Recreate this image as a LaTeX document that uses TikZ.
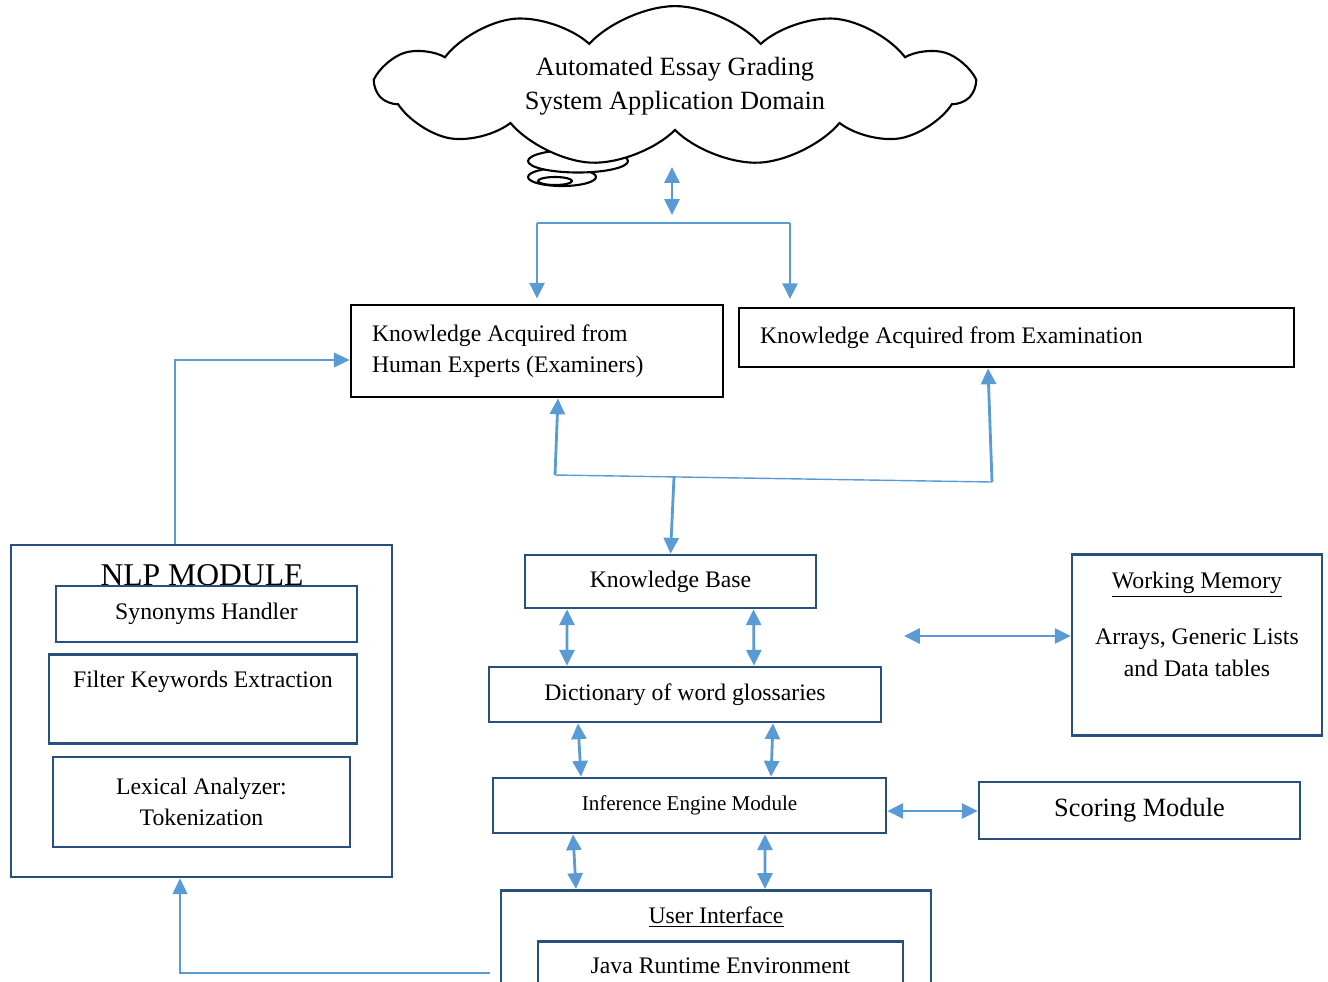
\documentclass[tikz,border=0pt]{standalone}
\usepackage{fontspec}
\setmainfont{Liberation Serif}
\usetikzlibrary{arrows.meta,shapes.symbols}
\definecolor{linkblue}{RGB}{91,155,213}
\definecolor{boxblue}{RGB}{41,80,125}

\begin{document}
\begin{tikzpicture}[
       font=\fontsize{13.5}{18}\selectfont,
       box/.style={rectangle, draw=boxblue, line width=1.5pt, fill=white, align=flush center, inner sep=0pt},
       knowbox/.style={rectangle, draw=black, line width=1.6pt, align=flush left, inner xsep=0.42cm, inner ysep=0pt},
       bubble/.style={draw=black, line width=1.2pt, fill=white},
       arrow/.style={-{Triangle[length=9pt,width=8.5pt]}, line width=1.6pt, linkblue},
       darrow/.style={{Triangle[length=9pt,width=8.5pt]}-{Triangle[length=9pt,width=8.5pt]}, line width=1.6pt, linkblue},
       link/.style={line width=0.8pt, linkblue},
       linkarrow/.style={-{Triangle[length=9pt,width=8.5pt]}, line width=0.8pt, linkblue}
   ]
   \clip (0,0) rectangle (26.56,-19.62);

   % thought bubble
   \draw[bubble] (11.24,-3.54) ellipse (0.68cm and 0.18cm);
   \draw[bubble] (11.1,-3.62) ellipse (0.34cm and 0.08cm);
   \draw[bubble] (11.56,-3.22) ellipse (1.0cm and 0.23cm);
   \node[cloud, draw=black, line width=1.2pt, fill=white, cloud puffs=11, cloud puff arc=95,
         cloud ignores aspect=false, aspect=3.8, inner sep=0pt,
         minimum width=11.9cm, minimum height=3.1cm, align=center,
         font=\fontsize{15}{19}\selectfont] (domain) at (13.5,-1.72)
         {Automated Essay Grading\\System Application Domain};

   % knowledge sources
   \node[knowbox, text width=6.6cm, minimum height=1.84cm] (human) at (10.74,-7.02)
         {Knowledge Acquired from\\Human Experts (Examiners)};
   \node[knowbox, text width=10.26cm, minimum height=1.18cm] (exam) at (20.33,-6.75)
         {Knowledge Acquired from Examination};

   % nlp module
   \node[box, minimum width=7.62cm, minimum height=6.64cm] (nlp) at (4.03,-14.22) {};
   \node[font=\fontsize{18}{20}\selectfont] (nlptitle) at (4.04,-11.51) {NLP MODULE};
   \node[box, minimum width=6.02cm, minimum height=1.12cm] (syn) at (4.13,-12.28) {Synonyms Handler};
   \node[box, anchor=north, text width=6.16cm, text height=0.66cm, text depth=1.12cm] (filter) at (4.06,-13.06)
         {Filter Keywords Extraction};
   \node[box, minimum width=5.94cm, minimum height=1.8cm] (lex) at (4.03,-16.04)
         {Lexical Analyzer:\\Tokenization};

   % core modules
   \node[box, minimum width=5.82cm, minimum height=1.06cm] (kb) at (13.41,-11.63) {Knowledge Base};
   \node[box, minimum width=7.84cm, minimum height=1.1cm] (dict) at (13.7,-13.89) {Dictionary of word glossaries};
   \node[box, minimum width=7.86cm, minimum height=1.1cm, font=\fontsize{12}{15}\selectfont] (inf) at (13.79,-16.11)
         {Inference Engine Module};
   \node[box, minimum width=6.42cm, minimum height=1.14cm, font=\fontsize{15}{18}\selectfont] (score) at (22.79,-16.21)
         {Scoring Module};
   \node[box, anchor=north, text width=5cm, text height=0.68cm, text depth=2.94cm] (wm) at (23.94,-11.06)
         {\underline{Working Memory}\\[14pt]Arrays, Generic Lists\\and Data tables};
   \node[box, anchor=north, text width=8.6cm, text height=0.66cm, text depth=2cm] (ui) at (14.32,-17.78)
         {\underline{User Interface}};
   \node[box, anchor=north, text width=7.3cm, text height=0.64cm, text depth=1cm] (jre) at (14.41,-18.8)
         {Java Runtime Environment};

   % free ends of the connectors
   \coordinate (cloudlow) at (13.44,-3.34);
   \coordinate (toplink) at (13.44,-4.3);
   \coordinate (brL) at (10.74,-4.46);
   \coordinate (brR) at (15.8,-4.46);
   \coordinate (splitL) at (11.1,-9.5);
   \coordinate (splitM) at (13.48,-9.54);
   \coordinate (splitR) at (19.84,-9.64);
   \coordinate (wmin) at (18.08,-12.72);
   \coordinate (uiout) at (9.8,-19.46);

   \draw[darrow] (cloudlow) -- (toplink);
   \draw[link, line width=1.1pt] (brL) -- (brR);
   \draw[arrow, shorten >=0.1cm] (brL) -- (brL |- human.north);
   \draw[arrow, shorten >=0.15cm] (brR) -- (brR |- exam.north);

   \draw[link] (splitL) -- (splitR);
   \draw[arrow] (splitL) -- ([xshift=0.42cm]human.south);
   \draw[arrow] (splitR) -- ([xshift=-0.57cm]exam.south);
   \draw[arrow] (splitM) -- (kb.north);

   \draw[linkarrow] ([xshift=-0.53cm]nlp.north) |- ([yshift=-0.18cm]human.west);
   \draw[linkarrow] (uiout) -| ([xshift=-0.43cm]nlp.south);

   \draw[darrow] ([xshift=-2.07cm]kb.south) -- ([xshift=-2.36cm]dict.north);
   \draw[darrow] ([xshift=1.66cm]kb.south) -- ([xshift=1.38cm]dict.north);
   \draw[darrow] ([xshift=-2.14cm]dict.south) -- ([xshift=-2.17cm]inf.north);
   \draw[darrow] ([xshift=1.76cm]dict.south) -- ([xshift=1.63cm]inf.north);
   \draw[darrow] ([xshift=-2.33cm]inf.south) -- ([xshift=-2.8cm]ui.north);
   \draw[darrow] ([xshift=1.51cm]inf.south) -- ([xshift=0.98cm]ui.north);
   \draw[darrow] ([yshift=-0.11cm]inf.east) -- ([yshift=-0.11cm]inf.east -| score.west);
   \draw[darrow] (wmin) -- (wmin -| wm.west);
\end{tikzpicture}
\end{document}
